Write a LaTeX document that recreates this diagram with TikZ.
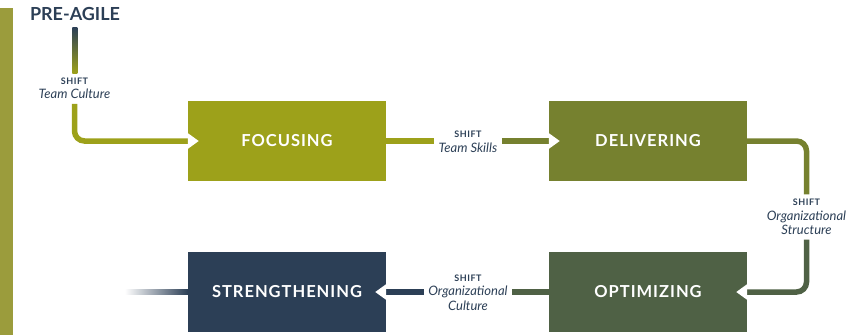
\documentclass[tikz,border=0pt]{standalone}
\usepackage{fontspec}
\setmainfont{Lato}
\newfontfamily\spacedfont{Lato}[LetterSpace=6]
\usetikzlibrary{arrows.meta,calc}
\definecolor{barolive}{HTML}{9B9C3C}
\definecolor{focuscol}{HTML}{9DA11A}
\definecolor{delivcol}{HTML}{76812F}
\definecolor{optimcol}{HTML}{4F6145}
\definecolor{navy}{HTML}{2C3F56}
\newcommand{\shifttag}{{\spacedfont\upshape\bfseries\fontsize{9}{9}\selectfont SHIFT}}
\tikzset{
  stage/.style={minimum width=198pt, minimum height=80pt, inner sep=0pt, text=white,
    font=\spacedfont\bfseries\fontsize{16.5}{18}\selectfont},
  shiftlabel/.style={align=center, text=navy, inner sep=4.5pt,
    font=\itshape\fontsize{13}{14.5}\selectfont},
  link/.style={line width=5.5pt},
  notch/.style={-{Triangle[length=11pt,width=15pt,white]}, shorten >=-11pt},
}
\begin{document}
\begin{tikzpicture}[x=1pt, y=-1pt]
\useasboundingbox (0,0) rectangle (851,335);
\fill[barolive] (0,8) rectangle (13,335);
\node[font=\bfseries\fontsize{18}{20}\selectfont, text=navy, inner sep=0pt] (preagile) at (75,13.5) {PRE-AGILE};
\node[stage, fill=focuscol] (focusing) at (287,141) {FOCUSING};
\node[stage, fill=delivcol] (delivering) at (648,141) {DELIVERING};
\node[stage, fill=optimcol] (optimizing) at (648,292) {OPTIMIZING};
\node[stage, fill=navy] (strengthening) at (287,292) {STRENGTHENING};
\node[shiftlabel] (teamculture) at (74.5,88.5) {\shifttag\\Team Culture};
\node[shiftlabel] (teamskills) at (468,142) {\shifttag\\Team Skills};
\node[shiftlabel] (orgstructure) at (806.5,217) {\shifttag\\Organizational\\Structure};
\node[shiftlabel] (orgculture) at (468,292.5) {\shifttag\\Organizational\\Culture};
% shifts between the stages
\shade[top color=navy, bottom color=focuscol] ($(preagile.south)+(-2.75,7)$) rectangle ($(teamculture.north)+(2.75,0)$);
\draw[link, focuscol, rounded corners=10pt, notch] (teamculture.south) |- (focusing.west);
\draw[link, focuscol] (focusing.east) -- (focusing.east -| teamskills.west);
\draw[link, delivcol, notch] (delivering.west -| teamskills.east) -- (delivering.west);
\draw[link, delivcol, rounded corners=10pt] (delivering.east) -| (orgstructure.north);
\draw[link, optimcol, rounded corners=10pt, notch] (orgstructure.south) |- (optimizing.east);
\draw[link, optimcol] (optimizing.west) -- (optimizing.west -| orgculture.east);
\draw[link, navy, notch] (strengthening.east -| orgculture.west) -- (strengthening.east);
\shade[left color=white, right color=navy] ($(strengthening.west)+(-63,-2.75)$) rectangle ($(strengthening.west)+(0,2.75)$);
\end{tikzpicture}
\end{document}
